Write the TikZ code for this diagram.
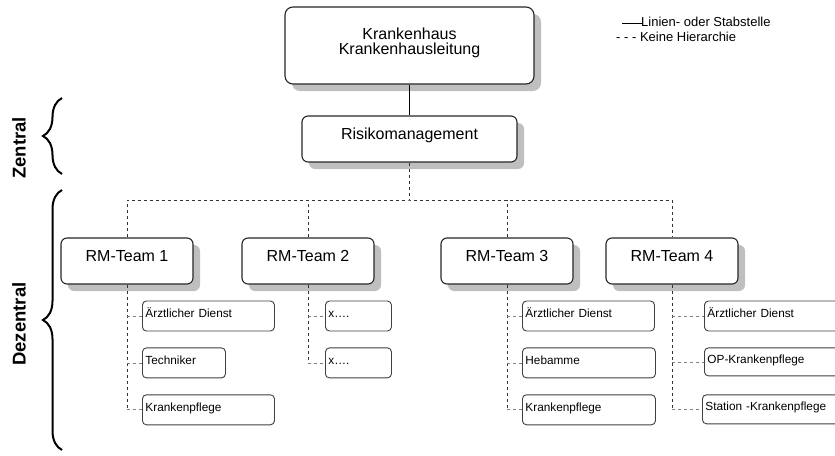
\documentclass[tikz,border=0pt]{standalone}
\usepackage{fontspec}
\setmainfont{Liberation Sans}
\usetikzlibrary{calc,positioning,shadows,decorations.pathreplacing}

\begin{document}
\begin{tikzpicture}[x=1pt,y=-1pt]

\tikzset{bigbox/.style={draw=black!85,line width=1.1pt,rounded corners=8pt,fill=white,inner sep=0pt,align=center,font=\fontsize{16}{14.5}\selectfont,drop shadow={shadow xshift=7pt,shadow yshift=-7pt,fill=black!25,opacity=1}},
teambox/.style={bigbox,rounded corners=6pt,minimum width=132pt,minimum height=46pt,text depth=10pt},
subbox/.style={draw=black!75,line width=0.9pt,rounded corners=4pt,fill=white,anchor=north west,align=left,inner xsep=3pt,inner ysep=0pt,minimum height=30pt,text height=9pt,text depth=6pt,text width=#1,font=\fontsize{11.8}{13}\selectfont},
hier/.style={dashed,black!80,line width=0.8pt},
stub/.style={dashed,black!50,line width=0.8pt},
brc/.style={decorate,decoration={brace,amplitude=19pt},line width=2pt},
sidelabel/.style={rotate=90,font=\bfseries\fontsize{18.5}{20}\selectfont}}

\useasboundingbox (0,0) rectangle (835,455);

% Top nodes
\node[bigbox,minimum width=249pt,minimum height=77pt,text depth=9pt] (kh) at (409.5,45.5) {Krankenhaus\\Krankenhausleitung};
\node[teambox,minimum width=215pt] (rm) at (409.5,139) {Risikomanagement};

% Team nodes
\node[teambox] (t1) at (127,261) {RM-Team 1};
\node[teambox] (t2) at (308,261) {RM-Team 2};
\node[teambox] (t3) at (507,261) {RM-Team 3};
\node[teambox] (t4) at (672,261) {RM-Team 4};

% Sub nodes
\node[subbox=126pt] (a1) at ($(t1.south)+(15,16)$) {Ärztlicher Dienst};
\node[subbox=77pt] (a2) at ($(a1.south west)+(0,16)$) {Techniker};
\node[subbox=126pt] (a3) at ($(a2.south west)+(0,16)$) {Krankenpflege};
\node[subbox=60pt] (b1) at ($(t2.south)+(17,16)$) {x\dots.};
\node[subbox=60pt] (b2) at ($(b1.south west)+(0,16)$) {x\dots.};
\node[subbox=126pt] (c1) at ($(t3.south)+(15,16)$) {Ärztlicher Dienst};
\node[subbox=127pt] (c2) at ($(c1.south west)+(0,16)$) {Hebamme};
\node[subbox=127pt] (c3) at ($(c2.south west)+(0,16)$) {Krankenpflege};
\node[subbox=130pt] (d1) at ($(t4.south)+(32,16)$) {Ärztlicher Dienst};
\node[subbox=130pt,minimum height=28pt] (d2) at ($(d1.south west)+(0,16)$) {OP-Krankenpflege};
\node[subbox=132pt,minimum height=29pt] (d3) at ($(d2.south west)+(-2,18)$) {Station -Krankenpflege};

% Edges
\coordinate (bus) at (409.5,200);
\draw[line width=0.8pt] (kh.south) -- (kh.south |- rm.north);
\draw[hier] (rm.south) -- (bus); \draw[hier] (t1.north) |- (bus) -| (t4.north);
\draw[hier] (t2.north) -- (t2.north |- bus); \draw[hier] (t3.north) -- (t3.north |- bus);
\foreach \t/\s in {t1/a3,t2/b2,t3/c3,t4/d3} \draw[hier] (\t.south) -- (\t.south |- \s.west); % team lines
\foreach \t/\s in {t1/a1,t1/a2,t1/a3,t2/b1,t2/b2,t3/c1,t3/c2,t3/c3,t4/d1,t4/d2,t4/d3} \draw[stub] (\t.south |- \s.west) -- (\s.west); % stubs

% Legend
\node[anchor=west,inner sep=0pt,font=\fontsize{13}{15}\selectfont] (legLine) at (641,21.5) {Linien- oder Stabstelle};
\node[anchor=west,inner sep=0pt,font=\fontsize{13}{15}\selectfont] (legDash) at (616,37) {- - - Keine Hierarchie};
\coordinate (legStart) at (622,23);
\draw[line width=0.9pt] (legStart) -- ([xshift=2pt]legStart -| legLine.west);

% Braces
\draw[brc] (62,174) -- (62,98);
\draw[brc] (62,450) -- (62,190);
\node[sidelabel] (zentral) at (19,148) {Zentral};
\node[sidelabel] (dezentral) at (19,324) {Dezentral};

\end{tikzpicture}
\end{document}
